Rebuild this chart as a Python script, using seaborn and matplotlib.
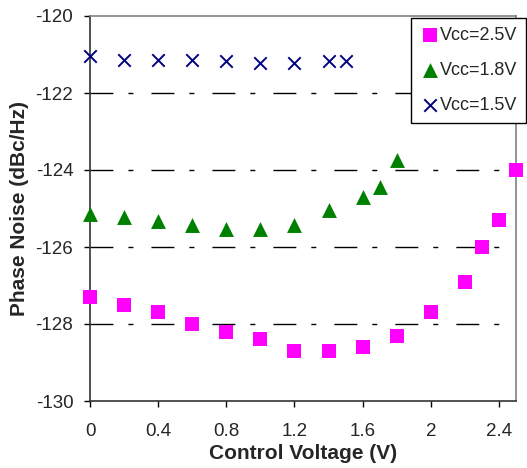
import matplotlib
matplotlib.use("Agg")
import matplotlib.pyplot as plt
import seaborn as sns
import pandas as pd

# ---- data ----
x_25 = [0, 0.2, 0.4, 0.6, 0.8, 1.0, 1.2, 1.4, 1.6, 1.8, 2.0, 2.2, 2.3, 2.4, 2.5]
pn_25 = [-127.3, -127.5, -127.7, -128.0, -128.2, -128.4, -128.7, -128.7, -128.6,
         -128.3, -127.7, -126.9, -126.0, -125.3, -124.0]
x_18 = [0, 0.2, 0.4, 0.6, 0.8, 1.0, 1.2, 1.4, 1.6, 1.7, 1.8]
pn_18 = [-125.15, -125.22, -125.32, -125.42, -125.52, -125.52, -125.42, -125.03,
         -124.70, -124.43, -123.73]
x_15 = [0, 0.2, 0.4, 0.6, 0.8, 1.0, 1.2, 1.4, 1.5]
pn_15 = [-121.05, -121.14, -121.14, -121.14, -121.18, -121.22, -121.22, -121.18, -121.18]
series_labels = ["Vcc=2.5V", "Vcc=1.8V", "Vcc=1.5V"]
x_ticks = [0, 0.4, 0.8, 1.2, 1.6, 2.0, 2.4]
y_ticks = [-130, -128, -126, -124, -122, -120]
x_title = "Control Voltage (V)"
y_title = "Phase Noise (dBc/Hz)"

sns.set_style("white")
plt.rcParams["font.family"] = ["Liberation Sans", "DejaVu Sans"]
plt.rcParams["axes.unicode_minus"] = False
plt.rcParams["lines.scale_dashes"] = False

fig = plt.figure(figsize=(5.27, 4.68), dpi=100)
ax = fig.add_axes([90 / 527, 1 - 401 / 468, (516 - 90) / 527, (401 - 16) / 468])

styles = [
    (x_25, pn_25, "s", "#FF00FF", 90, 0),
    (x_18, pn_18, "^", "#008000", 115, 0),
    (x_15, pn_15, "x", "#000080", 80, 1.4),
]
for (xs, ys, mk, col, s, lw), lab in zip(styles, series_labels):
    df = pd.DataFrame({"v": xs, "pn": ys})
    sns.scatterplot(data=df, x="v", y="pn", marker=mk, color=col, s=s,
                    linewidth=lw, edgecolor=col if mk != "x" else None,
                    ax=ax, label=lab, zorder=3, clip_on=False)

ax.set_xlim(0, 2.5)
ax.set_ylim(-130, -120)
ax.set_xticks(x_ticks)
ax.set_xticklabels([f"{t:g}" for t in x_ticks])
ax.set_yticks(y_ticks)
ax.set_yticklabels([f"{t:g}" for t in y_ticks])

for t in y_ticks[1:-1]:
    ax.axhline(t, color="black", lw=1.0, ls=(0, (16.5, 10.8, 3.6, 13.0)), zorder=1)

ax.tick_params(axis="both", which="major", labelsize=13.5, direction="out",
               length=4, width=1, color="black", bottom=True, left=True)
ax.tick_params(axis="y", pad=8)
ax.tick_params(axis="x", pad=12)

for side in ["left", "bottom"]:
    ax.spines[side].set_color("#333333")
    ax.spines[side].set_linewidth(1.2)
for side in ["top", "right"]:
    ax.spines[side].set_color("#808080")
    ax.spines[side].set_linewidth(1.2)

ax.set_xlabel(x_title, fontsize=15, fontweight="bold", labelpad=3)
ax.set_ylabel(y_title, fontsize=15, fontweight="bold", labelpad=5)

leg = ax.legend(loc="upper right", bbox_to_anchor=(526 / 527, 1 - 18 / 468),
                bbox_transform=fig.transFigure, frameon=True, fancybox=False,
                edgecolor="black", framealpha=1, fontsize=13, handletextpad=0.0,
                labelspacing=1.0, borderpad=0.5, borderaxespad=0, handlelength=1.1,
                markerscale=1.0)
leg.get_frame().set_linewidth(1.0)
leg.set_zorder(5)

fig.savefig("out.png", dpi=100)
